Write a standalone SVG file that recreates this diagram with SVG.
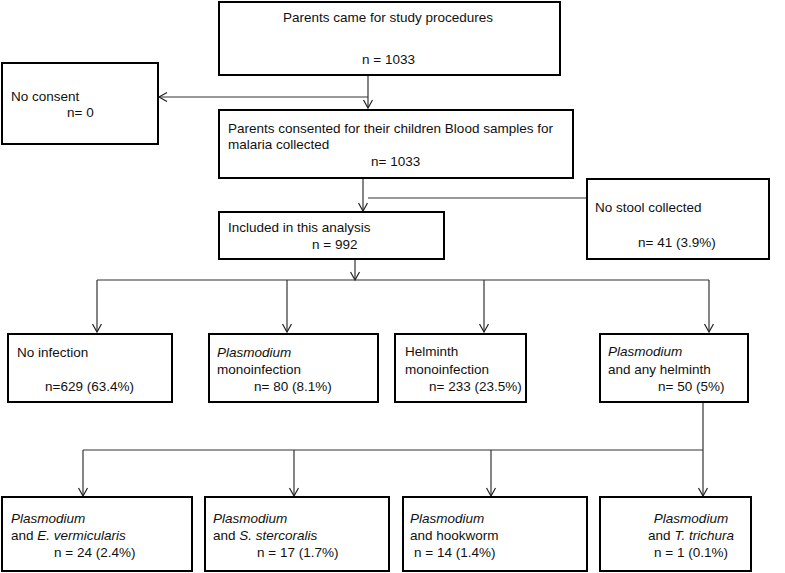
<svg xmlns="http://www.w3.org/2000/svg" width="785" height="573" viewBox="0 0 785 573">
<defs>
<marker id="arr" markerWidth="12" markerHeight="12" refX="9" refY="5" orient="auto" markerUnits="userSpaceOnUse">
<path d="M1,0.5 L9,5 L1,9.5" fill="none" stroke="#222" stroke-width="1.2"/>
</marker>
</defs>
<style>
.box{fill:#fff;stroke:#000;stroke-width:2}
.t{font-family:"Liberation Sans",Arial,sans-serif;font-size:13.5px;fill:#111}
.i{font-style:italic}
.c{fill:none;stroke:#333;stroke-width:1.2}
.a{fill:none;stroke:#333;stroke-width:1.2;marker-end:url(#arr)}
</style>
<rect width="785" height="573" fill="#fff"/>
<g id="connectors">
<line class="c" x1="368" y1="75" x2="368" y2="97"/>
<line class="a" x1="368" y1="97" x2="368" y2="108"/>
<line class="a" x1="368" y1="97" x2="159" y2="97"/>
<line class="a" x1="363" y1="178" x2="363" y2="211"/>
<line class="c" x1="368" y1="198" x2="587" y2="198"/>
<line class="a" x1="355" y1="259" x2="355" y2="280"/>
<line class="c" x1="97" y1="280" x2="709" y2="280"/>
<line class="a" x1="97" y1="280" x2="97" y2="332"/>
<line class="a" x1="287" y1="280" x2="287" y2="332"/>
<line class="a" x1="484" y1="280" x2="484" y2="332"/>
<line class="a" x1="709" y1="280" x2="709" y2="332"/>
<line class="c" x1="703" y1="402" x2="703" y2="450"/>
<line class="c" x1="83" y1="450" x2="703" y2="450"/>
<line class="a" x1="83" y1="450" x2="83" y2="496"/>
<line class="a" x1="294" y1="450" x2="294" y2="496"/>
<line class="a" x1="491" y1="450" x2="491" y2="496"/>
<line class="a" x1="703" y1="450" x2="703" y2="496"/>
</g>
<g id="n1"><rect class="box" x="219" y="2" width="341" height="73"/>
<text class="t" x="283" y="22">Parents came for study procedures</text>
<text class="t" x="362" y="64">n = 1033</text></g>
<g id="n2"><rect class="box" x="2" y="63" width="156" height="81"/>
<text class="t" x="11" y="101">No consent</text>
<text class="t" x="67" y="117">n= 0</text></g>
<g id="n3"><rect class="box" x="219" y="110" width="354" height="68"/>
<text class="t" x="228" y="133">Parents consented for their children Blood samples for</text>
<text class="t" x="228" y="149">malaria collected</text>
<text class="t" x="371" y="166">n= 1033</text></g>
<g id="n4"><rect class="box" x="587" y="179" width="182" height="80"/>
<text class="t" x="595" y="212">No stool collected</text>
<text class="t" x="638" y="247">n= 41 (3.9%)</text></g>
<g id="n5"><rect class="box" x="219" y="212" width="225" height="47"/>
<text class="t" x="228" y="232">Included in this analysis</text>
<text class="t" x="312" y="249">n = 992</text></g>
<g id="n6"><rect class="box" x="8" y="334" width="164" height="68"/>
<text class="t" x="17" y="357">No infection</text>
<text class="t" x="45" y="391">n=629 (63.4%)</text></g>
<g id="n7"><rect class="box" x="209" y="334" width="169" height="68"/>
<text class="t i" x="217" y="357">Plasmodium</text>
<text class="t" x="217" y="374">monoinfection</text>
<text class="t" x="254" y="391">n= 80 (8.1%)</text></g>
<g id="n8"><rect class="box" x="395" y="334" width="131" height="68"/>
<text class="t" x="405" y="356">Helminth</text>
<text class="t" x="405" y="374">monoinfection</text>
<text class="t" x="429" y="391">n= 233 (23.5%)</text></g>
<g id="n9"><rect class="box" x="600" y="334" width="148" height="68"/>
<text class="t i" x="608" y="356">Plasmodium</text>
<text class="t" x="608" y="374">and any helminth</text>
<text class="t" x="658" y="391">n= 50 (5%)</text></g>
<g id="n10"><rect class="box" x="2" y="497" width="190" height="74"/>
<text class="t i" x="11" y="523">Plasmodium</text>
<text class="t" x="11" y="540">and <tspan class="i">E. vermicularis</tspan></text>
<text class="t" x="54" y="557">n = 24 (2.4%)</text></g>
<g id="n11"><rect class="box" x="205" y="497" width="184" height="74"/>
<text class="t i" x="213" y="523">Plasmodium</text>
<text class="t" x="213" y="540">and <tspan class="i">S. stercoralis</tspan></text>
<text class="t" x="257" y="557">n = 17 (1.7%)</text></g>
<g id="n12"><rect class="box" x="403" y="497" width="184" height="74"/>
<text class="t i" x="410" y="523">Plasmodium</text>
<text class="t" x="410" y="540">and hookworm</text>
<text class="t" x="414" y="557">n = 14 (1.4%)</text></g>
<g id="n13"><rect class="box" x="600" y="497" width="151" height="74"/>
<text class="t i" x="691" y="523" text-anchor="middle">Plasmodium</text>
<text class="t" x="691" y="540" text-anchor="middle">and <tspan class="i">T. trichura</tspan></text>
<text class="t" x="691" y="557" text-anchor="middle">n = 1 (0.1%)</text></g>
</svg>
